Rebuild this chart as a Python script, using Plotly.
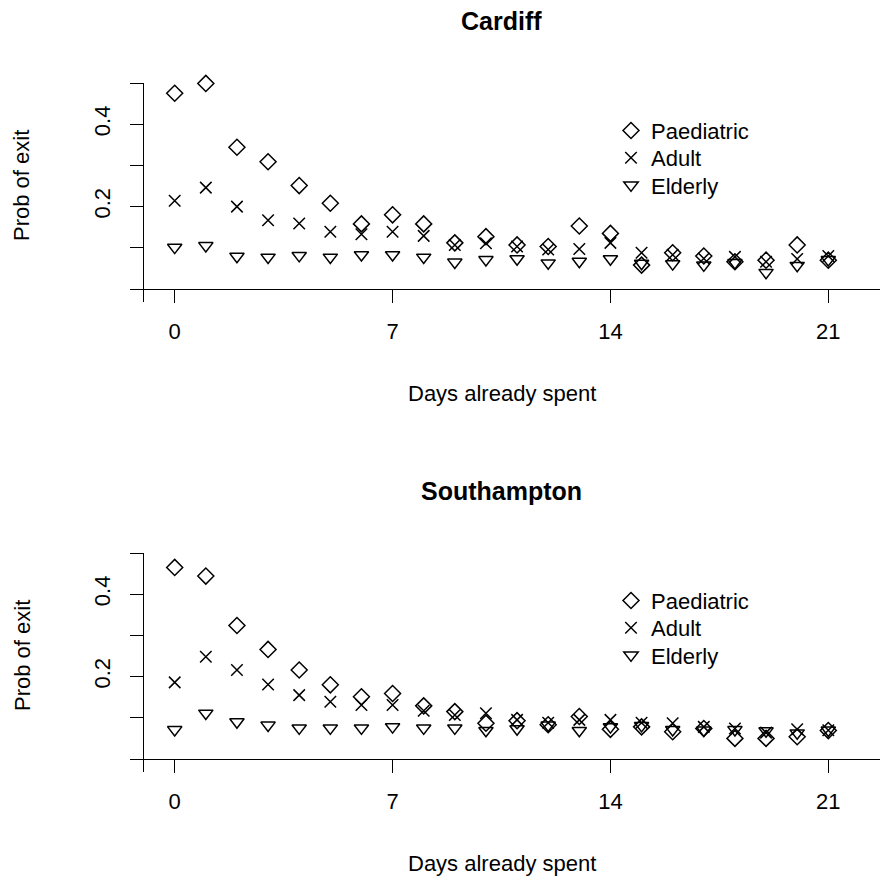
import plotly.graph_objects as go

# ---------------- data ----------------
days = list(range(22))

cardiff_paediatric = [0.475, 0.499, 0.344, 0.309, 0.251, 0.208, 0.158, 0.180, 0.158, 0.112, 0.127,
                      0.107, 0.103, 0.153, 0.135, 0.058, 0.088, 0.080, 0.066, 0.070, 0.107, 0.070]
cardiff_adult = [0.214, 0.246, 0.200, 0.167, 0.159, 0.139, 0.133, 0.139, 0.129, 0.107, 0.111,
                 0.103, 0.096, 0.097, 0.112, 0.088, 0.083, 0.074, 0.078, 0.066, 0.073, 0.080]
cardiff_elderly = [0.101, 0.105, 0.079, 0.077, 0.081, 0.077, 0.083, 0.083, 0.077, 0.065, 0.071,
                   0.073, 0.063, 0.067, 0.073, 0.062, 0.061, 0.058, 0.064, 0.040, 0.057, 0.071]

southampton_paediatric = [0.465, 0.444, 0.324, 0.266, 0.216, 0.180, 0.151, 0.159, 0.129, 0.115, 0.087,
                          0.093, 0.083, 0.103, 0.072, 0.078, 0.066, 0.074, 0.050, 0.050, 0.054, 0.069]
southampton_adult = [0.186, 0.248, 0.216, 0.181, 0.155, 0.139, 0.131, 0.131, 0.117, 0.107, 0.111,
                     0.095, 0.088, 0.095, 0.095, 0.088, 0.087, 0.078, 0.074, 0.064, 0.072, 0.070]
southampton_elderly = [0.071, 0.111, 0.090, 0.082, 0.075, 0.075, 0.075, 0.078, 0.075, 0.075, 0.069,
                       0.073, 0.082, 0.069, 0.078, 0.081, 0.071, 0.070, 0.071, 0.068, 0.063, 0.070]

x_tickvals = [0, 7, 14, 21]
y_tickvals = [0.0, 0.1, 0.2, 0.3, 0.4, 0.5]
y_ticktext = ["", "", "0.2", "", "0.4", ""]

groups = ["Paediatric", "Adult", "Elderly"]
panels = ["Cardiff", "Southampton"]

# ---------------- layout helpers (pixel geometry) ----------------
W, H = 880, 876
FONT = "Liberation Sans, Arial, Helvetica, sans-serif"
FS = 22


def fx(p):
    return p / W


def fy(p):
    return 1 - p / H


symbols = {
    "Paediatric": dict(symbol="diamond-open", size=12.3),
    "Adult": dict(symbol="x-thin", size=11.5),
    "Elderly": dict(symbol="triangle-down-open", size=12.5),
}

fig = go.Figure()

series = [
    [cardiff_paediatric, cardiff_adult, cardiff_elderly],
    [southampton_paediatric, southampton_adult, southampton_elderly],
]

offsets = [0, 470]
legend_rows = [130.7, 158.0, 185.3]

layout = dict(
    width=W, height=H, margin=dict(l=0, r=0, t=0, b=0),
    paper_bgcolor="white", plot_bgcolor="white", showlegend=True,
    font=dict(family=FONT, color="black"),
)

leg_idx = 0
for i, (name, vals) in enumerate(zip(panels, series)):
    xa = "x" if i == 0 else "x2"
    ya = "y" if i == 0 else "y2"
    for j, (g, v) in enumerate(zip(groups, vals)):
        leg_idx += 1
        lname = "legend" if leg_idx == 1 else "legend%d" % leg_idx
        s = symbols[g]
        fig.add_trace(go.Scatter(
            x=days, y=v, mode="markers", name=g,
            xaxis=xa, yaxis=ya, legend=lname, cliponaxis=False,
            marker=dict(symbol=s["symbol"], size=s["size"], color="black",
                        line=dict(color="black", width=1.5)),
            hoverinfo="skip",
        ))
        layout[lname] = dict(
            x=fx(611), y=fy(legend_rows[j] + offsets[i]), xanchor="left", yanchor="middle",
            bgcolor="rgba(0,0,0,0)", borderwidth=0,
            font=dict(family=FONT, size=FS, color="black"),
            itemclick=False, itemdoubleclick=False,
        )

x0px, x21px = 174.7, 828.3
ppd = (x21px - x0px) / 21
xrange = [(130 - x0px) / ppd, (880 - x0px) / ppd]
ppu = 412.0

axis_common = dict(showline=True, linecolor="black", linewidth=1, ticks="outside",
                   ticklen=13, tickwidth=1, tickcolor="black", showgrid=False,
                   zeroline=False, tickfont=dict(family=FONT, size=FS, color="black"))

annotations = []
for i, name in enumerate(panels):
    off = offsets[i]
    sfx = "" if i == 0 else "2"
    top_px, bot_px, zero_px = 83 + off, 302 + off, 289 + off
    layout["xaxis" + sfx] = dict(
        axis_common, domain=[fx(130), 1.0], range=xrange, tickvals=x_tickvals,
        anchor="free", position=fy(zero_px), ticklabelstandoff=10,
    )
    layout["yaxis" + sfx] = dict(
        axis_common, domain=[fy(bot_px), fy(top_px)],
        range=[-(bot_px - zero_px) / ppu, 0.5], tickvals=y_tickvals, ticktext=y_ticktext,
        tickangle=-90, anchor="free", position=fx(143.4), ticklabelstandoff=12,
    )
    annotations.append(dict(text="<b>%s</b>" % name, x=fx(501), y=fy(21 + off),
                            xref="paper", yref="paper", showarrow=False,
                            xanchor="center", yanchor="middle",
                            font=dict(family=FONT, size=25, color="black")))
    annotations.append(dict(text="Days already spent", x=fx(502), y=fy(393 + off),
                            xref="paper", yref="paper", showarrow=False,
                            xanchor="center", yanchor="middle",
                            font=dict(family=FONT, size=FS, color="black")))
    annotations.append(dict(text="Prob of exit", x=fx(22), y=fy(186 + off),
                            xref="paper", yref="paper", showarrow=False, textangle=-90,
                            xanchor="center", yanchor="middle",
                            font=dict(family=FONT, size=FS, color="black")))

layout["annotations"] = annotations
fig.update_layout(**layout)

fig.write_html("out.html", config={"displayModeBar": False},
               post_script="document.body.style.margin='0';")
